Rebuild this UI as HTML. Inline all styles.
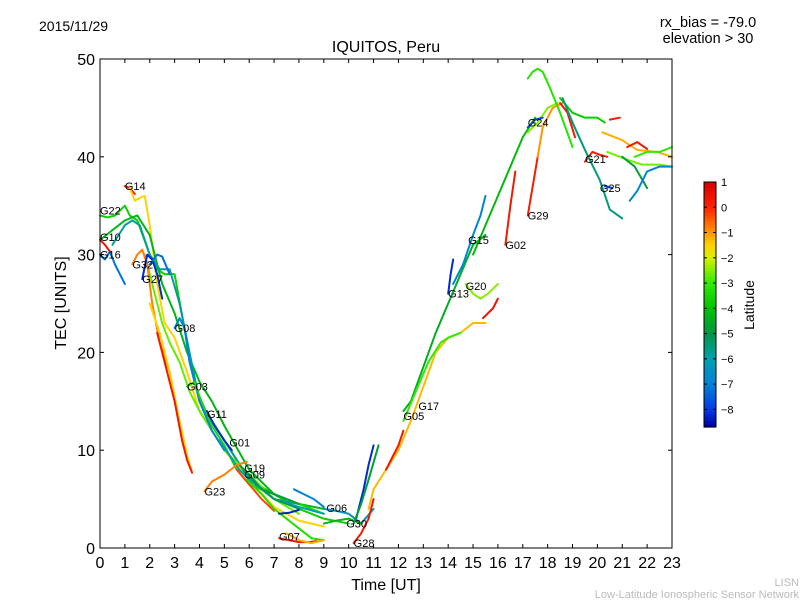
<!DOCTYPE html>
<html><head><meta charset="utf-8"><style>
body{margin:0;background:#fff;}
svg text{font-family:"Liberation Sans",sans-serif;}
</style></head><body>
<svg width="800" height="600" viewBox="0 0 800 600" xmlns="http://www.w3.org/2000/svg">
<rect width="800" height="600" fill="#fff"/>
<g id="series"></g>
<g id="axes"></g>
<g id="cbar"></g>
<text x="39" y="31" font-size="14">2015/11/29</text>
<text x="386" y="52" font-size="16" text-anchor="middle">IQUITOS, Peru</text>
<text x="708" y="27" font-size="14.5" text-anchor="middle">rx_bias = -79.0</text>
<text x="708" y="43" font-size="14.5" text-anchor="middle">elevation &gt; 30</text>
<text x="386" y="590" font-size="16" text-anchor="middle">Time [UT]</text>
<text x="0" y="0" font-size="16" text-anchor="middle" transform="translate(66,303) rotate(-90)">TEC [UNITS]</text>
<text x="0" y="0" font-size="14" text-anchor="middle" transform="translate(754,305) rotate(-90)">Latitude</text>
<text x="799" y="586" font-size="11" fill="#bbb" text-anchor="end">LISN</text>
<text x="799" y="598" font-size="11" fill="#bbb" text-anchor="end">Low-Latitude Ionospheric Sensor Network</text>
</svg>
<script>
const xTicks=[0,1,2,3,4,5,6,7,8,9,10,11,12,13,14,15,16,17,18,19,20,21,22,23];
const yTicks=[0,10,20,30,40,50];
const cbTicks=[1,0,-1,-2,-3,-4,-5,-6,-7,-8];
const tracks=[
{n:"G14",lat:0.2,t:[1.0,1.2,1.4],v:[37,36.8,36.2],lb:[1.0,37]},
{n:"",lat:-1.5,t:[1.2,1.4,1.6,1.8,2.0,2.3,2.6,3.0,3.5,4,5,6,7,8,9],v:[36.8,35.5,35.8,36,33,27,23,21.5,18,14,10,7,4.2,2.8,2.2]},
{n:"G22",lat:-3.7,t:[0,0.3,0.6,1.0,1.2,1.5,2.0,2.3,2.6,3.0,3.5,4,5,6,7,8,9,10],v:[34,33.8,34,35,34,33.5,30,28.5,28,28,21,15,11,7,5.5,4,3,2.5],lb:[0,34.5]},
{n:"",lat:-4.3,t:[0,0.5,1.0,1.5,2.0,2.5,3.0,3.5,4,4.5,5,6,7,8,9],v:[31.5,32.5,33.5,34,32,27,24,20,17,15,12.5,8,5.5,4.5,4]},
{n:"",lat:-5.8,t:[0.5,1.0,1.3,1.6,2.0,2.4,2.8,3.2,3.6,4,5,6,7,8],v:[31,33,33.5,33,30,28.5,28.5,25,20,15,11,7,5,4.5]},
{n:"",lat:-2.7,t:[1.8,2.2,2.5,2.8,3.2,3.6,4,4.5,5,6,7,8],v:[30,26,23,21,19,16,14,12,10,7.5,5,3.5]},
{n:"G16",lat:-7.2,t:[0,0.2,0.4,0.6,0.8,1.0],v:[30,29.5,30.3,29,28,27],lb:[0,30]},
{n:"G10",lat:0.4,t:[0,0.2,0.4],v:[31.5,31,30.3],lb:[0,31.8]},
{n:"G32",lat:-0.8,t:[1.3,1.5,1.7,1.9,2.1,2.4,2.8,3.0],v:[29,30,30.5,29,25,21,18,15.5],lb:[1.3,29]},
{n:"",lat:-1.5,t:[2.0,2.4,2.8,3.2,3.5,3.7],v:[25,22,18,13,9.5,7.8]},
{n:"",lat:0.3,t:[2.3,2.7,3.0,3.3,3.5,3.7],v:[22,18,15,11,9,7.7]},
{n:"G27",lat:-8.2,t:[1.7,1.9,2.1,2.3,2.5],v:[27.5,30,29.5,28,25.5],lb:[1.7,27.5]},
{n:"",lat:-7.3,t:[2.0,2.3,2.5,2.8],v:[29,30,29.8,28]},
{n:"G08",lat:-7,t:[3.0,3.2,3.4,3.6,3.8,4,4.5,5],v:[22.5,23.5,22.5,19,17,15,12,10],lb:[3.0,22.5]},
{n:"G03",lat:-3.5,t:[3.5,3.8,4,4.5,5,5.5,6,6.5,7,8,9],v:[16.5,17,15.5,12.5,10.5,8,6.5,6,5.5,4.5,3.5],lb:[3.5,16.5]},
{n:"G11",lat:-8.2,t:[4.3,4.6,5,5.3],v:[14,12.5,11,10],lb:[4.3,13.7]},
{n:"G01",lat:-6,t:[4.8,5.2,5.6,6,7,8,9],v:[11,9.5,8,7,5,4.2,3.5],lb:[5.2,10.8]},
{n:"G19",lat:-4.8,t:[5.6,6,6.5,7,7.5,8],v:[8.5,7.5,6,5.5,5,4.5],lb:[5.8,8.2]},
{n:"G09",lat:-5.2,t:[5.8,6.3,7,7.5,8],v:[7.8,6.5,5,4.5,4],lb:[5.8,7.5]},
{n:"",lat:-0.3,t:[5.5,6,6.5,7],v:[8,6.5,5,3.8]},
{n:"G23",lat:-0.8,t:[4.2,4.5,5,5.5,5.9],v:[5.8,6.8,7.5,8.5,8.8],lb:[4.2,5.8]},
{n:"",lat:-3.3,t:[5.9,6.5,7,7.5,8,8.5,9],v:[7,5.5,4,3,2,1,0.8]},
{n:"G07",lat:0.3,t:[7.2,7.6,8,8.4,8.7],v:[1,0.8,0.6,0.6,0.7],lb:[7.2,1.2]},
{n:"",lat:-1.2,t:[7.5,8,8.5,9],v:[1.5,0.8,0.5,0.8]},
{n:"G06",lat:-7,t:[7.8,8.2,8.6,9],v:[6,5.5,5,4.2],lb:[9.1,4.1]},
{n:"",lat:-8.3,t:[7.2,7.6,8],v:[3.5,3.6,3.9]},
{n:"G30",lat:-6.5,t:[9,9.5,10,10.5,11],v:[4,3.8,3.5,2.5,4],lb:[9.9,2.5]},
{n:"",lat:-4.3,t:[9,9.5,10,10.5],v:[2.5,2.8,3,2.5]},
{n:"G28",lat:0.3,t:[10.2,10.5,10.8,11],v:[0.5,1.5,3,5],lb:[10.2,0.5]},
{n:"",lat:-8.2,t:[10.3,10.6,10.8,11],v:[3,6,8.5,10.5]},
{n:"",lat:-4.8,t:[10.2,10.5,10.8,11.2],v:[2.5,4.5,7,10.5]},
{n:"G17",lat:-1.3,t:[10.8,11,11.5,12,12.5,13,13.5,14,14.5,15,15.5],v:[4,6,8,10,13,16.5,20,21.5,22,23,23],lb:[12.8,14.5]},
{n:"",lat:0.3,t:[11.5,12,12.2],v:[8,10.5,12]},
{n:"",lat:0.4,t:[15.4,15.8,16],v:[23.5,24.5,25.5]},
{n:"G05",lat:-4.5,t:[12.2,12.5,13,13.5,14,14.5,15,15.5],v:[14,15,18.5,22,25,28,31,32],lb:[12.2,13.5]},
{n:"",lat:-3,t:[12.2,12.7,13.2,13.7,14,14.5],v:[13,16,19,21,21.5,22]},
{n:"G13",lat:-8.2,t:[14,14.1,14.2],v:[26,28,29.5],lb:[14,26]},
{n:"",lat:-6.8,t:[14.2,14.6,15,15.3,15.5],v:[27,29,32,34,36]},
{n:"G20",lat:-2.5,t:[14.7,15,15.3,15.6,16],v:[27,26,25.5,26,27],lb:[14.7,26.8]},
{n:"G15",lat:-4.2,t:[15,15.5,16,16.5,17,17.5],v:[30,33,36,39,42,44],lb:[14.8,31.5]},
{n:"G02",lat:0.3,t:[16.3,16.5,16.7],v:[31,35,38.5],lb:[16.3,31]},
{n:"G29",lat:0.2,t:[17.2,17.4,17.6],v:[34,37,40],lb:[17.2,34]},
{n:"",lat:-1,t:[17.6,17.8,18.2,18.6],v:[40,43,45,45.5]},
{n:"",lat:-2.5,t:[17.2,17.6,18.0,18.4],v:[42.5,43.5,45,45.5]},
{n:"",lat:-3.2,t:[17.2,17.4,17.6,17.8,18.1,18.5,19],v:[48,48.7,49,48.7,47,44.5,41]},
{n:"G24",lat:-7.8,t:[17.2,17.5,17.8],v:[43,43.8,44],lb:[17.2,43.5]},
{n:"",lat:0.3,t:[18.5,18.8,19.1],v:[45.5,44.5,42]},
{n:"",lat:-3.8,t:[18.5,19,19.5,20,20.3],v:[46,44.5,44,44,43.5]},
{n:"",lat:0.2,t:[20.5,20.9],v:[43.8,44]},
{n:"G21",lat:0.2,t:[19.5,19.8,20.1,20.4],v:[39.5,40.5,40.2,40],lb:[19.5,39.8]},
{n:"",lat:-2.6,t:[20.4,21.2,21.8,22.5,23],v:[40.5,39.7,39.2,39.2,39]},
{n:"",lat:-1.2,t:[20.2,21,21.6,22.4,23],v:[42.5,41.7,40.7,40.5,40]},
{n:"",lat:0.4,t:[21.2,21.6,22],v:[41,41.5,40.8]},
{n:"",lat:-5.5,t:[18.6,19,19.5,20.1,20.5,21],v:[46,43.5,40.7,37.6,34.6,33.7]},
{n:"G25",lat:-8,t:[20.3,20.6],v:[37,36.8],lb:[20.1,36.8]},
{n:"",lat:-4.8,t:[21,21.5,22],v:[40,39,36.8]},
{n:"",lat:-6.8,t:[21.3,21.6,22,22.5,23],v:[35.5,36.5,38.5,39,39]},
{n:"",lat:-3,t:[21.5,22,22.5,23],v:[40,40.5,40.5,41]}
];
const NS="http://www.w3.org/2000/svg";
const X0=100,X1=672,Y0=548,Y1=59;
const xs=t=>X0+(t-0)/(23-0)*(X1-X0);
const ys=v=>Y0-(v-0)/(50-0)*(Y0-Y1);
const CB0=182,CB1=427,LMAX=1.0,LMIN=-8.7;
const cy=l=>CB0+(LMAX-l)/(LMAX-LMIN)*(CB1-CB0);
const stops=[[-8.7,[0,0,160]],[-8,[0,60,230]],[-7,[0,130,215]],[-6,[0,160,175]],[-5,[0,150,70]],[-4,[0,195,0]],[-3,[50,235,0]],[-2,[215,240,0]],[-1.5,[255,210,0]],[-1,[255,150,0]],[0,[255,35,0]],[1,[215,0,0]]];
function latColor(l){if(l<=stops[0][0])return 'rgb('+stops[0][1]+')';
 for(let i=1;i<stops.length;i++){if(l<=stops[i][0]){const a=stops[i-1],b=stops[i],f=(l-a[0])/(b[0]-a[0]);
  return 'rgb('+a[1].map((c,k)=>Math.round(c+(b[1][k]-c)*f)).join(',')+')';}}
 return 'rgb('+stops[stops.length-1][1]+')';}
function mk(tag,attrs,parent){const e=document.createElementNS(NS,tag);for(const k in attrs)e.setAttribute(k,attrs[k]);parent.appendChild(e);return e;}
const sg=document.getElementById('series');
tracks.forEach((tr,i)=>{
 const p=mk('polyline',{points:tr.t.map((t,j)=>xs(t)+','+ys(tr.v[j])).join(' '),fill:'none',stroke:latColor(tr.lat),'stroke-width':2,'stroke-linejoin':'round','stroke-linecap':'round'},sg);
 
 
});
tracks.forEach(tr=>{if(tr.n){const tx=mk('text',{x:xs(tr.lb[0]),y:ys(tr.lb[1])+4,'font-size':11},sg);tx.textContent=tr.n;
 
 }});
const ag=document.getElementById('axes');
const fr=mk('rect',{x:X0,y:Y1,width:X1-X0,height:Y0-Y1,fill:'none',stroke:'#000','stroke-width':1},ag);


xTicks.forEach(t=>{const x=xs(t);
 mk('line',{x1:x,x2:x,y1:Y0,y2:Y0-4,stroke:'#000'},ag);mk('line',{x1:x,x2:x,y1:Y1,y2:Y1+4,stroke:'#000'},ag);
 const tx=mk('text',{x:x,y:Y0+20,'font-size':16,'text-anchor':'middle'},ag);tx.textContent=t;
 
 });
yTicks.forEach(v=>{const y=ys(v);
 mk('line',{x1:X0,x2:X0+4,y1:y,y2:y,stroke:'#000'},ag);mk('line',{x1:X1,x2:X1-4,y1:y,y2:y,stroke:'#000'},ag);
 const tx=mk('text',{x:X0-5,y:y+6,'font-size':16,'text-anchor':'end'},ag);tx.textContent=v;
 
 });
const cg=document.getElementById('cbar');
for(let k=0;k<80;k++){const l0=LMAX-(LMAX-LMIN)*k/80,l1=LMAX-(LMAX-LMIN)*(k+1)/80;
 mk('rect',{x:704,y:cy(l0),width:12,height:cy(l1)-cy(l0)+0.6,fill:latColor((l0+l1)/2)},cg);}
mk('rect',{x:704,y:CB0,width:12,height:CB1-CB0,fill:'none',stroke:'#000'},cg);
cbTicks.forEach(l=>{const y=cy(l);mk('line',{x1:704,x2:707,y1:y,y2:y,stroke:'#000'},cg);mk('line',{x1:716,x2:713,y1:y,y2:y,stroke:'#000'},cg);
 const tx=mk('text',{x:721,y:y+4,'font-size':11},cg);tx.textContent=l<0?'\u2212'+(-l):l;
 
 });
</script>
</body></html>
